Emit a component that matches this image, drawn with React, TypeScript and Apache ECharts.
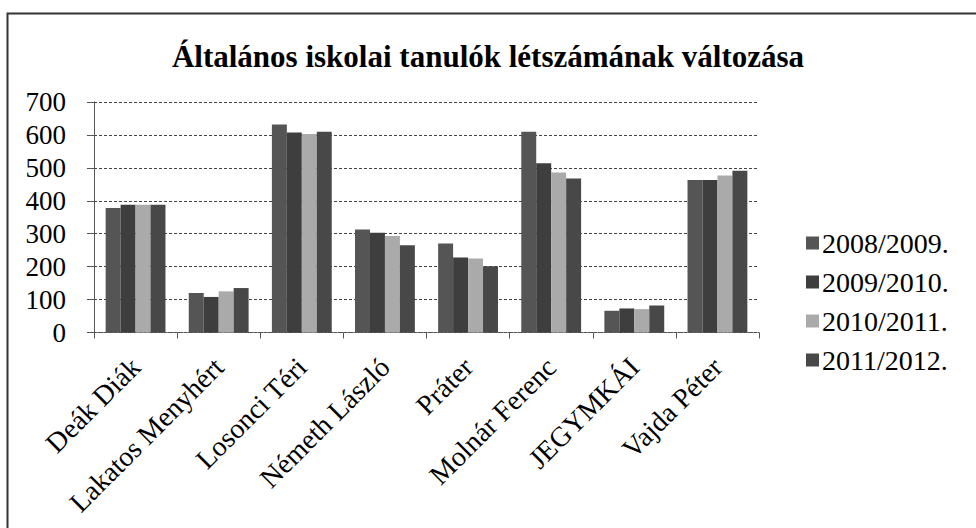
import React, { useEffect, useRef } from "react";
import * as echarts from "echarts";

const categories = [
  "Deák Diák",
  "Lakatos Menyhért",
  "Losonci Téri",
  "Németh László",
  "Práter",
  "Molnár Ferenc",
  "JEGYMKÁI",
  "Vajda Péter",
];
const seriesNames = ["2008/2009.", "2009/2010.", "2010/2011.", "2011/2012."];
const values2008 = [378, 120, 632, 313, 270, 610, 66, 463];
const values2009 = [388, 108, 607, 303, 228, 514, 73, 463];
const values2010 = [388, 125, 603, 293, 225, 486, 71, 477];
const values2011 = [388, 135, 610, 265, 201, 468, 82, 491];
const yTicks = [0, 100, 200, 300, 400, 500, 600, 700];

const colors = ["#555555", "#3e3e3e", "#aaaaaa", "#484848"];
const FONT = "'Liberation Serif', 'Times New Roman', serif";

export default function App() {
  const ref = useRef<HTMLDivElement>(null);
  useEffect(() => {
    if (!ref.current) return;
    const chart = echarts.init(ref.current, undefined, { renderer: "svg" });
    const all = [values2008, values2009, values2010, values2011];
    chart.setOption({
      animation: false,
      backgroundColor: "#ffffff",
      graphic: [
        {
          type: "rect",
          shape: { x: 7.5, y: 13.5, width: 1000, height: 600 },
          style: { fill: "none", stroke: "#333", lineWidth: 2 },
          silent: true,
        },
      ],
      title: {
        text: "Általános iskolai tanulók létszámának változása",
        left: "center",
        top: 36,
        textStyle: {
          fontFamily: FONT,
          fontSize: 31,
          fontWeight: "bold",
          color: "#000",
        },
      },
      legend: {
        orient: "vertical",
        left: 801,
        top: 224,
        itemWidth: 13,
        itemHeight: 13,
        itemGap: 11,
        icon: "rect",
        data: seriesNames,
        textStyle: { fontFamily: FONT, fontSize: 28, color: "#000", padding: [0, 0, 0, -2] },
      },
      grid: { left: 94, right: 217, top: 102, bottom: 195.5, containLabel: false },
      xAxis: {
        type: "category",
        data: categories,
        axisLine: { show: true, lineStyle: { color: "#555", width: 1, type: "dotted" } },
        axisTick: { show: true, length: 6, lineStyle: { color: "#555" } },
        axisLabel: {
          interval: 0,
          rotate: 45,
          margin: 30,
          fontFamily: FONT,
          fontSize: 28,
          color: "#000",
        },
      },
      yAxis: {
        type: "value",
        min: 0,
        max: 700,
        interval: 100,
        axisLine: { show: true, lineStyle: { color: "#555", width: 1 } },
        axisTick: { show: true, length: 7, lineStyle: { color: "#555" } },
        axisLabel: {
          margin: 28,
          fontFamily: FONT,
          fontSize: 27,
          color: "#000",
          formatter: (v: number) => (yTicks.includes(v) ? String(v) : ""),
        },
        splitLine: { show: true, lineStyle: { color: "#444", type: [3, 2], width: 1 } },
      },
      series: seriesNames.map((name, i) => ({
        name,
        type: "bar",
        data: all[i],
        barGap: "0%",
        barCategoryGap: "28%",
        itemStyle: { color: colors[i] },
      })),
    });
    return () => chart.dispose();
  }, []);
  return (
    <div
      ref={ref}
      style={{ position: "absolute", left: 0, top: 0, width: 976, height: 528 }}
    />
  );
}
